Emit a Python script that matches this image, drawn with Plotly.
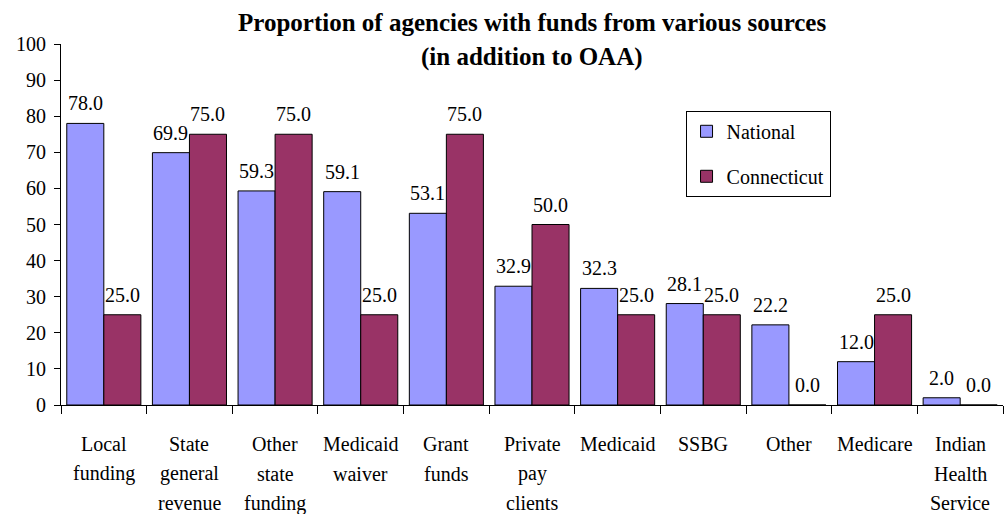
import plotly.graph_objects as go

categories = ["Local\nfunding", "State\ngeneral\nrevenue", "Other\nstate\nfunding",
              "Medicaid\nwaiver", "Grant\nfunds", "Private\npay\nclients", "Medicaid",
              "SSBG", "Other", "Medicare", "Indian\nHealth\nService"]
national = [78.0, 69.9, 59.3, 59.1, 53.1, 32.9, 32.3, 28.1, 22.2, 12.0, 2.0]
connecticut = [25.0, 75.0, 75.0, 25.0, 75.0, 50.0, 25.0, 25.0, 0.0, 25.0, 0.0]
title_lines = ["Proportion of agencies with funds from various sources", "(in addition to OAA)"]

FONT = "Liberation Serif, Times New Roman, serif"
FS = 20
keys = [c.replace("\n", " ") for c in categories]

fig = go.Figure()
fig.add_trace(go.Bar(
    x=keys, y=national, name="National", legendgroup="a",
    marker=dict(color="#9999FF", line=dict(color="black", width=1)),
))
fig.add_trace(go.Bar(
    x=keys, y=connecticut, name="Connecticut", legendgroup="b",
    marker=dict(color="#993366", line=dict(color="black", width=1)),
))

annotations = []
# data labels
for series, shift in ((national, -18.5), (connecticut, 18.5)):
    for k, v in zip(keys, series):
        annotations.append(dict(x=k, xref="x", y=v, yref="y", text=f"{v:.1f}",
                                showarrow=False, yanchor="middle", xshift=shift, yshift=20,
                                font=dict(family=FONT, size=FS, color="black")))
# category labels
for k, c in zip(keys, categories):
    for i, line in enumerate(c.split("\n")):
        annotations.append(dict(x=k, xref="x", y=0, yref="paper", text=line,
                                showarrow=False, yanchor="middle", yshift=-39 - 29.5 * i,
                                font=dict(family=FONT, size=FS, color="black")))
# title
for i, t in enumerate(title_lines):
    annotations.append(dict(x=0.5, xref="paper", y=1, yref="paper", text=f"<b>{t}</b>",
                            showarrow=False, yanchor="middle", yshift=22 - 35 * i,
                            font=dict(family=FONT, size=25, color="black")))

fig.update_layout(
    width=1005, height=514,
    margin=dict(l=61, r=2, t=44, b=109),
    paper_bgcolor="white", plot_bgcolor="white",
    barmode="group", bargap=0.135, bargroupgap=0,
    font=dict(family=FONT, size=FS, color="black"),
    showlegend=True,
    legend=dict(x=0.663, y=0.815, xanchor="left", yanchor="top",
                bordercolor="black", borderwidth=1, bgcolor="white",
                font=dict(family=FONT, size=FS, color="black"),
                tracegroupgap=16, traceorder="grouped", itemwidth=30),
    annotations=annotations,
)
fig.update_xaxes(showticklabels=False, tickson="boundaries", ticks="outside", ticklen=8,
                 tickcolor="black", showline=True, linecolor="black", linewidth=1,
                 showgrid=False, zeroline=False, fixedrange=True)
fig.update_yaxes(range=[0, 100], dtick=10, ticks="outside", ticklen=6, tickcolor="black",
                 showline=True, linecolor="black", linewidth=1, showgrid=False,
                 zeroline=False, tickfont=dict(family=FONT, size=FS, color="black"),
                 ticklabelstandoff=4, fixedrange=True)

fig.write_html("out.html", post_script="document.body.style.margin='0';",
               config={"displayModeBar": False})
